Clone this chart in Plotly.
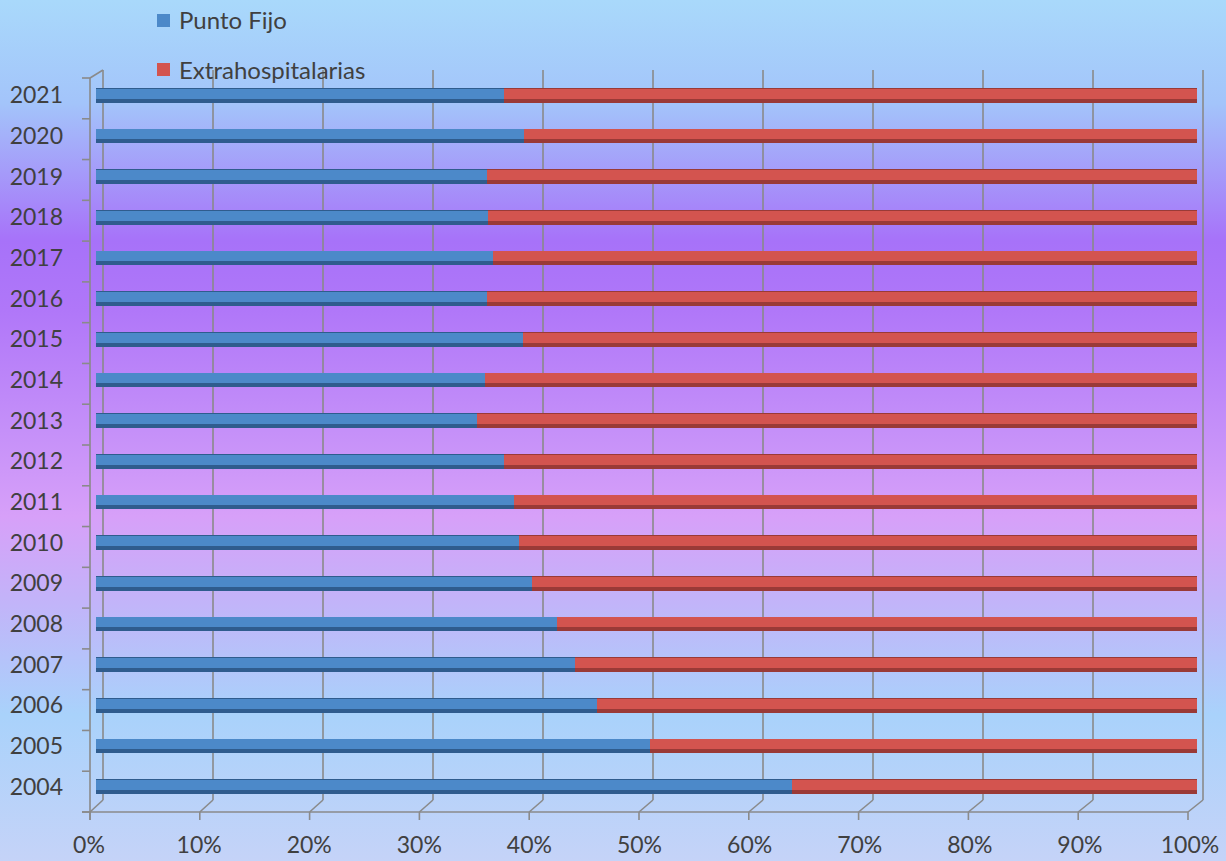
import base64
import plotly.graph_objects as go

years = [str(y) for y in range(2004, 2022)]
punto_fijo = [63.2, 50.3, 45.5, 43.5, 41.9, 39.6, 38.4, 38.0, 37.1, 34.6,
              35.3, 38.8, 35.5, 36.1, 35.6, 35.5, 38.9, 37.1]
extrahosp = [36.8, 49.7, 54.5, 56.5, 58.1, 60.4, 61.6, 62.0, 62.9, 65.4,
             64.7, 61.2, 64.5, 63.9, 64.4, 64.5, 61.1, 62.9]
x_ticks = [0, 10, 20, 30, 40, 50, 60, 70, 80, 90, 100]
x_labels = ["0%", "10%", "20%", "30%", "40%", "50%", "60%", "70%", "80%", "90%", "100%"]
# name, values, face colour, shadow colour
series = [("Punto Fijo", punto_fijo, "#4c89c9", "#2f5c8e"),
          ("Extrahospitalarias", extrahosp, "#d3544f", "#9a3a37")]

W, H = 1226, 861
L, R, T, B = 96, 1197, 75, 807   # plot area (bar plane) in pixels


def px(x):
    return (x - L) / (R - L)


def py(y):
    return (B - y) / (B - T)


# background gradient as an svg image
stops = [(0, "#a9d9fb"), (0.12, "#a3c4fa"), (0.28, "#a772f9"), (0.36, "#b077f9"),
         (0.5, "#c590f9"), (0.6, "#d7a0f9"), (0.7, "#c2b4f9"), (0.83, "#a9d2fb"),
         (1, "#c5d3f8")]
svg = ('<svg xmlns="http://www.w3.org/2000/svg" width="100" height="100" preserveAspectRatio="none">'
       '<defs><linearGradient id="g" x1="0" y1="0" x2="0" y2="1">'
       + "".join('<stop offset="%s" stop-color="%s"/>' % s for s in stops)
       + '</linearGradient></defs><rect width="100" height="100" fill="url(#g)"/></svg>')
bg_src = "data:image/svg+xml;base64," + base64.b64encode(svg.encode()).decode()

fig = go.Figure()
# full-thickness dark bars, then a lighter face on an overlaid axis for the cylinder look
for name, vals, col, shade in series:
    fig.add_trace(go.Bar(y=years, x=vals, orientation="h", name=name,
                         width=0.36, offset=-0.18,
                         marker=dict(color=shade, line=dict(width=0))))
for name, vals, col, shade in series:
    fig.add_trace(go.Bar(y=years, x=vals, orientation="h", name=name, yaxis="y2",
                         width=0.24, offset=-0.08,
                         marker=dict(color=col, line=dict(width=0))))

grid = dict(color="#8a8a8a", width=1.6)
shapes = []
annotations = []
back_top, back_bot, front_top, front_bot = 70, 800, 78, 812


def xb(v):
    return 103 + v / 100 * 1100


def xf(v):
    return 90 + v / 100 * 1098


def seg(x0, y0, x1, y1):
    shapes.append(dict(type="line", xref="paper", yref="paper", layer="below", line=grid,
                       x0=px(x0), x1=px(x1), y0=py(y0), y1=py(y1)))


for v in x_ticks:
    seg(xb(v), back_top, xb(v), back_bot)
    seg(xb(v), back_bot, xf(v), front_bot)
    seg(xf(v), front_bot, xf(v), front_bot + 8)
# floor front edge, left front wall edge
seg(82, front_bot, xf(100), front_bot)
seg(90, front_top, 90, front_bot + 8)
seg(90, front_top, xb(0), back_top)
step = (front_bot - front_top) / len(years)
for k in range(len(years) + 1):
    yy = front_top + k * step
    seg(82, yy, 90, yy)

# legend drawn by hand (plotly's legend would push the margins)
for i, (name, vals, col, shade) in enumerate(series):
    cy = 20 + i * 49
    shapes.append(dict(type="rect", xref="paper", yref="paper", line=dict(width=0),
                       fillcolor=col, x0=px(157), x1=px(170), y0=py(cy - 6), y1=py(cy + 7)))
    annotations.append(dict(text=name, xref="paper", yref="paper", x=px(177), y=py(cy),
                            xanchor="left", yanchor="middle", showarrow=False,
                            font=dict(size=24)))

fig.update_layout(
    width=W, height=H, autosize=False,
    margin=dict(l=L, r=W - R, t=T, b=H - B),
    barmode="stack",
    paper_bgcolor="#c5d3f8", plot_bgcolor="rgba(0,0,0,0)",
    font=dict(family="Lato", size=23, color="#404040"),
    images=[dict(source=bg_src, xref="paper", yref="paper", x=px(0), y=py(0),
                 sizex=px(W) - px(0), sizey=py(0) - py(H), sizing="stretch",
                 xanchor="left", yanchor="top", layer="below")],
    shapes=shapes,
    annotations=annotations,
    showlegend=False,
    xaxis=dict(range=[0, 100], tickvals=x_ticks, ticktext=x_labels, showgrid=False,
               zeroline=False, showline=False, ticks="", ticklabelshift=-7,
               ticklabelstandoff=22, fixedrange=True, automargin=False),
    yaxis=dict(categoryorder="array", categoryarray=years, range=[-0.5, len(years) - 0.5],
               showgrid=False, zeroline=False, showline=False, ticks="",
               ticklabelstandoff=32, fixedrange=True, automargin=False),
    yaxis2=dict(overlaying="y", categoryorder="array", categoryarray=years,
                range=[-0.5, len(years) - 0.5], visible=False, fixedrange=True),
)

fig.write_html(
    "out.html",
    config={"displayModeBar": False},
    post_script=("var d=document.getElementById('{plot_id}');"
                 "d.style.position='absolute';d.style.left='0px';d.style.top='0px';"
                 "document.body.style.overflow='hidden';"),
)
